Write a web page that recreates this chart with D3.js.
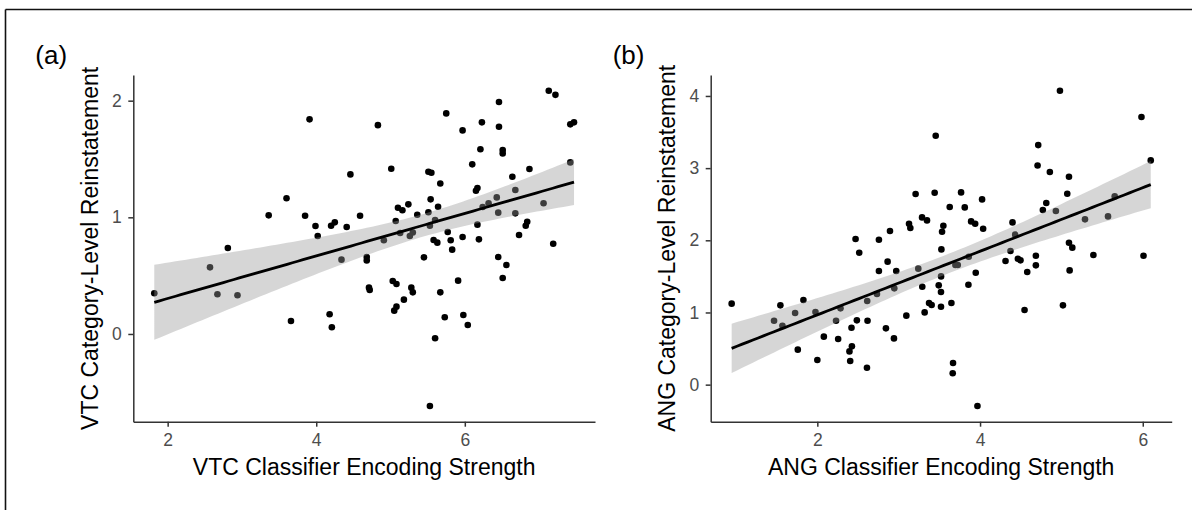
<!DOCTYPE html>
<html>
<head>
<meta charset="utf-8">
<script src="https://cdn.jsdelivr.net/npm/d3@7/dist/d3.min.js"></script>
<style>
  html, body { margin: 0; padding: 0; background: #ffffff; }
  svg { display: block; font-family: "Liberation Sans", Arial, Helvetica, sans-serif; }
</style>
</head>
<body>
<svg id="fig" width="1192" height="510"></svg>
<script>
// Panel (a): VTC classifier encoding strength vs. category-level reinstatement
const vtcEncoding = [
  1.82, 2.57, 2.81, 2.67, 2.94, 3.36, 3.60, 3.66, 3.91, 3.85,
  3.99, 4.02, 4.20, 4.25, 4.18, 4.21, 4.34, 4.41, 4.46, 4.59,
  4.83, 4.68, 4.68, 4.71, 4.72, 5.01, 5.07, 5.10, 5.16, 5.24,
  5.13, 4.91, 5.26, 5.30, 5.36, 5.03, 5.08, 5.05, 5.08, 5.18,
  5.28, 5.30, 5.51, 5.55, 5.67, 5.54, 5.64, 5.51, 5.60, 5.53,
  5.58, 5.63, 5.45, 5.77, 5.81, 5.97, 5.83, 5.91, 5.67, 5.73,
  5.60, 5.98, 6.04, 5.53, 5.75, 5.97, 6.23, 6.46, 6.46, 6.21,
  6.51, 6.51, 6.10, 6.15, 6.17, 6.64, 6.87, 6.43, 6.32, 6.24,
  6.68, 6.45, 6.68, 7.06, 6.17, 6.19, 6.84, 6.82, 6.73, 6.45,
  6.56, 6.51, 7.19, 7.13, 7.22, 7.42, 7.47, 7.42
];
const vtcReinstatement = [
  0.349, 0.571, 0.737, 0.340, 0.332, 1.017, 1.163, 0.111, 1.840, 1.014,
  0.925, 0.840, 0.928, 0.957, 0.169, 0.057, 0.637, 0.917, 1.368, 1.014,
  1.790, 0.660, 0.630, 0.397, 0.377, 1.417, 0.968, 1.082, 1.060, 1.111,
  0.865, 0.803, 0.840, 0.870, 1.022, 0.454, 0.428, 0.200, 0.234, 0.294,
  0.397, 0.357, 1.391, 1.382, 1.290, 1.154, 1.091, 1.043, 0.977, 0.928,
  0.806, 0.783, 0.657, 0.874, 0.803, 0.831, 0.723, 0.457, 0.357, 0.143,
  -0.037, 0.163, 0.077, -0.617, 1.891, 1.745, 1.814, 1.988, 1.777, 1.583,
  1.577, 1.548, 1.454, 1.228, 1.251, 1.348, 1.414, 1.171, 1.120, 1.088,
  1.234, 1.040, 1.034, 1.120, 0.937, 0.811, 0.962, 0.928, 0.848, 0.660,
  0.591, 0.480, 0.774, 2.085, 2.050, 1.797, 1.814, 1.471
];

// Panel (b): ANG classifier encoding strength vs. category-level reinstatement
const angEncoding = [
  0.947, 1.468, 1.546, 1.571, 1.727, 1.829, 1.760, 1.977, 2.000, 2.080,
  2.230, 2.285, 2.256, 2.470, 2.515, 2.486, 2.420, 2.425, 2.395, 2.404,
  2.613, 2.617, 2.610, 2.757, 2.757, 2.733, 2.893, 2.864, 2.970, 2.946,
  2.843, 2.942, 3.094, 3.208, 3.127, 3.143, 3.241, 3.290, 3.319, 3.287,
  3.348, 3.455, 3.442, 3.373, 3.405, 3.549, 3.533, 3.525, 3.627, 3.767,
  3.812, 4.025, 3.890, 3.940, 4.038, 3.861, 3.697, 3.726, 3.521, 3.492,
  3.520, 3.520, 3.648, 3.857, 3.947, 3.668, 3.664, 3.968, 4.399, 4.432,
  4.374, 4.313, 4.465, 4.497, 4.686, 4.686, 4.580, 4.547, 4.715, 4.707,
  4.858, 4.814, 4.772, 4.932, 4.982, 5.093, 5.072, 5.093, 5.134, 5.101,
  5.019, 5.290, 5.393, 5.573, 5.655, 5.984, 6.009, 6.098
];
const angReinstatement = [
  1.122, 0.886, 1.099, 0.817, 0.993, 1.173, 0.485, 1.007, 0.342, 0.665,
  0.886, 1.057, 0.633, 2.018, 1.828, 0.891, 0.789, 0.531, 0.461, 0.328,
  1.159, 0.886, 0.235, 2.008, 1.575, 1.256, 2.129, 1.704, 1.575, 1.334,
  0.780, 0.641, 0.956, 2.641, 2.230, 2.170, 1.607, 1.357, 1.001, 2.317,
  2.276, 3.449, 2.659, 1.131, 1.104, 2.202, 2.119, 1.874, 2.461, 2.664,
  2.456, 2.567, 2.262, 2.230, 2.161, 1.773, 1.658, 1.658, 1.500, 1.376,
  1.284, 1.080, 1.131, 1.385, 1.551, 0.300, 0.157, -0.295, 2.248, 2.078,
  1.851, 1.713, 1.745, 1.722, 1.787, 1.653, 1.561, 1.034, 3.319, 3.037,
  2.946, 2.516, 2.419, 2.405, 4.072, 2.881, 2.645, 1.967, 1.898, 1.583,
  1.099, 2.290, 1.796, 2.331, 2.608, 3.708, 1.787, 3.107
];

// Tick values and labels
const xTicksA = [2, 4, 6];
const yTicksA = [0, 1, 2];
const xTicksB = [2, 4, 6];
const yTicksB = [0, 1, 2, 3, 4];
const panelTags = ["(a)", "(b)"];
const xTitles = ["VTC Classifier Encoding Strength", "ANG Classifier Encoding Strength"];
const yTitles = ["VTC Category-Level Reinstatement", "ANG Category-Level Reinstatement"];

const svg = d3.select("#fig");
svg.append("rect").attr("width", 1192).attr("height", 510).attr("fill", "#ffffff");

// frame lines along the top and left edge of the figure
svg.append("line").attr("x1", 5.5).attr("x2", 1192).attr("y1", 9.5).attr("y2", 9.5)
  .attr("stroke", "#111").attr("stroke-width", 1.6);
svg.append("line").attr("x1", 5.5).attr("x2", 5.5).attr("y1", 9.5).attr("y2", 510)
  .attr("stroke", "#111").attr("stroke-width", 1.6);

// two-sided 97.5% t quantile (Cornish-Fisher style expansion)
function tQuantile975(df) {
  const z = 1.959964;
  return z + (z ** 3 + z) / (4 * df)
    + (5 * z ** 5 + 16 * z ** 3 + 3 * z) / (96 * df * df)
    + (3 * z ** 7 + 19 * z ** 5 + 17 * z ** 3 - 15 * z) / (384 * df ** 3);
}

// ordinary least squares with a 95% confidence band for the mean
function linearFit(xs, ys) {
  const n = xs.length;
  const mx = d3.mean(xs), my = d3.mean(ys);
  let sxx = 0, sxy = 0;
  for (let i = 0; i < n; i++) {
    sxx += (xs[i] - mx) ** 2;
    sxy += (xs[i] - mx) * (ys[i] - my);
  }
  const b = sxy / sxx, a = my - b * mx;
  let sse = 0;
  for (let i = 0; i < n; i++) sse += (ys[i] - a - b * xs[i]) ** 2;
  const s = Math.sqrt(sse / (n - 2));
  const t = tQuantile975(n - 2);
  const [x0, x1] = d3.extent(xs);
  const grid = d3.range(80).map(k => x0 + (x1 - x0) * k / 79);
  return grid.map(x => {
    const fit = a + b * x;
    const se = s * Math.sqrt(1 / n + (x - mx) ** 2 / sxx);
    return { x, fit, lo: fit - t * se, hi: fit + t * se };
  });
}

// 5% padding on each side of the data range
function padded(values) {
  const [lo, hi] = d3.extent(values);
  const pad = (hi - lo) * 0.05;
  return [lo - pad, hi + pad];
}

function drawPanel(opts) {
  const { xs, ys, xTicks, yTicks, left, right, top, bottom, tag, xTitle, yTitle } = opts;
  const x = d3.scaleLinear().domain(padded(xs)).range([left, right]);
  const y = d3.scaleLinear().domain(padded(ys)).range([bottom, top]);
  const g = svg.append("g");

  // points
  g.append("g").selectAll("circle")
    .data(d3.zip(xs, ys))
    .join("circle")
    .attr("cx", d => x(d[0]))
    .attr("cy", d => y(d[1]))
    .attr("r", 3.3)
    .attr("fill", "#000000");

  // regression band and line
  const fit = linearFit(xs, ys);
  g.append("path")
    .datum(fit)
    .attr("d", d3.area().x(d => x(d.x)).y0(d => y(d.lo)).y1(d => y(d.hi)))
    .attr("fill", "#999999")
    .attr("fill-opacity", 0.4);
  g.append("path")
    .datum(fit)
    .attr("d", d3.line().x(d => x(d.x)).y(d => y(d.fit)))
    .attr("fill", "none")
    .attr("stroke", "#000000")
    .attr("stroke-width", 2.8);

  // axes
  const xAxis = g.append("g")
    .attr("transform", `translate(0,${bottom})`)
    .call(d3.axisBottom(x).tickValues(xTicks).tickSize(5).tickSizeOuter(0).tickPadding(7.3).tickFormat(d3.format("d")));
  const yAxis = g.append("g")
    .attr("transform", `translate(${left},0)`)
    .call(d3.axisLeft(y).tickValues(yTicks).tickSize(5).tickSizeOuter(0).tickPadding(6.5).tickFormat(d3.format("d")));
  [xAxis, yAxis].forEach(ax => {
    ax.select(".domain").attr("stroke", "#333333").attr("stroke-width", 1.5);
    ax.selectAll(".tick line").attr("stroke", "#333333").attr("stroke-width", 1.5);
    ax.selectAll(".tick text")
      .attr("fill", "#4d4d4d")
      .style("font-size", "17.5px")
      .style("font-family", "'Liberation Sans', Arial, sans-serif");
  });

  // titles
  g.append("text")
    .attr("x", (left + right) / 2)
    .attr("y", 475)
    .attr("text-anchor", "middle")
    .attr("fill", "#000000")
    .style("font-size", "23px")
    .text(xTitle);
  g.append("text")
    .attr("transform", `translate(${left - 35.5},${(top + bottom) / 2}) rotate(-90)`)
    .attr("text-anchor", "middle")
    .attr("fill", "#000000")
    .style("font-size", "23px")
    .text(yTitle);
  g.append("text")
    .attr("x", left - 98)
    .attr("y", 63.5)
    .attr("fill", "#000000")
    .style("font-size", "26px")
    .text(tag);
}

drawPanel({
  xs: vtcEncoding, ys: vtcReinstatement, xTicks: xTicksA, yTicks: yTicksA,
  left: 133.3, right: 595, top: 75, bottom: 421.7,
  tag: panelTags[0], xTitle: xTitles[0], yTitle: yTitles[0]
});
drawPanel({
  xs: angEncoding, ys: angReinstatement, xTicks: xTicksB, yTicks: yTicksB,
  left: 710.7, right: 1171.7, top: 75, bottom: 421.7,
  tag: panelTags[1], xTitle: xTitles[1], yTitle: yTitles[1]
});
</script>
</body>
</html>
